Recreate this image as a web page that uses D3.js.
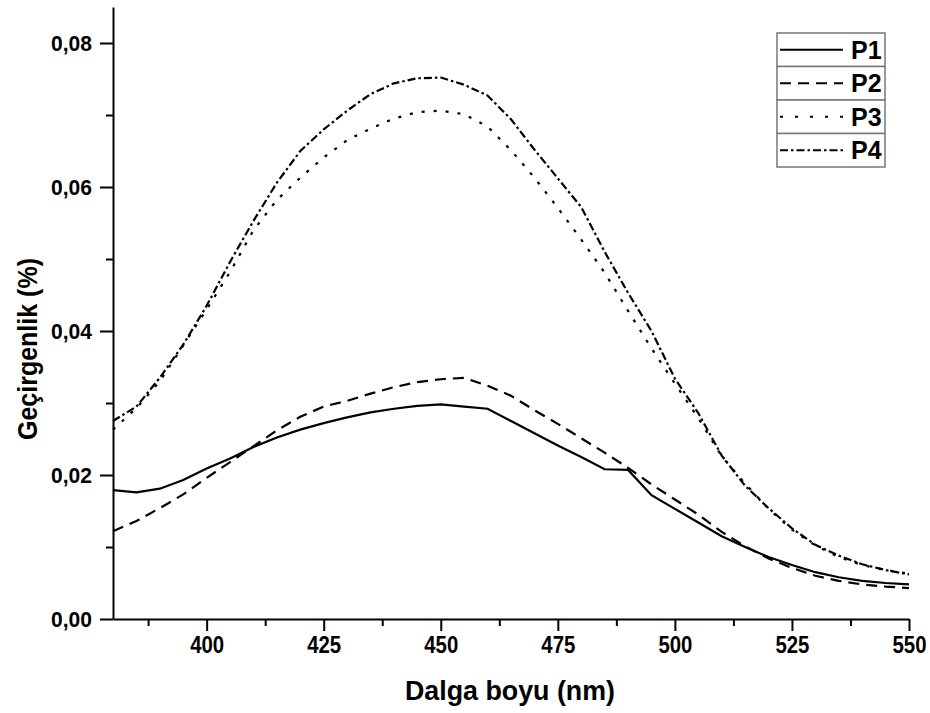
<!DOCTYPE html>
<html>
<head>
<meta charset="utf-8">
<script src="https://cdn.jsdelivr.net/npm/d3@7"></script>
<style>
  body { margin: 0; background: #fff; }
  svg { display: block; font-family: "Liberation Sans", Arial, sans-serif; }
</style>
</head>
<body>
<div id="chart"></div>
<script>
const wavelengths = [380, 385, 390, 395, 400, 405, 410, 415, 420, 425, 430, 435, 440, 445, 450, 455, 460, 465, 470, 475, 480, 485, 490, 495, 500, 505, 510, 515, 520, 525, 530, 535, 540, 545, 550];

const p1 = [0.0179, 0.0176, 0.0181, 0.0193, 0.0209, 0.0223, 0.0239, 0.0252, 0.0263, 0.0272, 0.0280, 0.0287, 0.0292, 0.0296, 0.0298, 0.0295, 0.0292, 0.0275, 0.0258, 0.0241, 0.0225, 0.0208, 0.0207, 0.0172, 0.0153, 0.0134, 0.0115, 0.0100, 0.0086, 0.0075, 0.0065, 0.0058, 0.0053, 0.0050, 0.0048];
const p2 = [0.0122, 0.0136, 0.0154, 0.0173, 0.0196, 0.0218, 0.0240, 0.0262, 0.0281, 0.0295, 0.0303, 0.0313, 0.0322, 0.0329, 0.0333, 0.0335, 0.0324, 0.0310, 0.0290, 0.0271, 0.0251, 0.0231, 0.0210, 0.0187, 0.0166, 0.0145, 0.0121, 0.0101, 0.0084, 0.0071, 0.0060, 0.0053, 0.0048, 0.0045, 0.0043];
const p3 = [0.0263, 0.0293, 0.0330, 0.0380, 0.0430, 0.0482, 0.0540, 0.0582, 0.0613, 0.0641, 0.0665, 0.0681, 0.0695, 0.0704, 0.0706, 0.0701, 0.0684, 0.0651, 0.0613, 0.0571, 0.0527, 0.0481, 0.0428, 0.0376, 0.0327, 0.0279, 0.0226, 0.0188, 0.0153, 0.0124, 0.0102, 0.0086, 0.0075, 0.0068, 0.0063];
const p4 = [0.0275, 0.0295, 0.0335, 0.0381, 0.0435, 0.0496, 0.0553, 0.0606, 0.0650, 0.0680, 0.0706, 0.0729, 0.0744, 0.0751, 0.0752, 0.0742, 0.0727, 0.0694, 0.0652, 0.0612, 0.0572, 0.0510, 0.0453, 0.0400, 0.0334, 0.0286, 0.0227, 0.0185, 0.0154, 0.0126, 0.0103, 0.0088, 0.0076, 0.0068, 0.0062];

const seriesNames = ["P1", "P2", "P3", "P4"];
const seriesValues = [p1, p2, p3, p4];
const dashes = [null, "11,7", "3,9", "8,3,2.5,3"];

const xTicks = [400, 425, 450, 475, 500, 525, 550];
const xMinorTicks = [387.5, 412.5, 437.5, 462.5, 487.5, 512.5, 537.5];
const yTicks = [0, 0.02, 0.04, 0.06, 0.08];
const yMinorTicks = [0.01, 0.03, 0.05, 0.07];

const width = 930;
const height = 713;
const margin = { top: 7, right: 21, bottom: 94, left: 113 };

const svg = d3.select("#chart")
  .append("svg")
  .attr("width", width)
  .attr("height", height);

const x = d3.scaleLinear()
  .domain([380, 550])
  .range([margin.left, width - margin.right]);

const y = d3.scaleLinear()
  .domain([0, 0.085])
  .range([height - margin.bottom, margin.top]);

const fmt = d => d3.format(".2f")(d).replace(".", ",");

// x axis
const xAxis = svg.append("g")
  .attr("transform", `translate(0,${y(0)})`)
  .call(d3.axisBottom(x).tickValues(xTicks).tickSize(12).tickSizeOuter(0).tickPadding(6).tickFormat(d3.format("d")));
svg.append("g")
  .attr("transform", `translate(0,${y(0)})`)
  .call(d3.axisBottom(x).tickValues(xMinorTicks).tickSize(7).tickSizeOuter(0).tickFormat(""))
  .call(g => g.select(".domain").remove());

// y axis
const yAxis = svg.append("g")
  .attr("transform", `translate(${x(380)},0)`)
  .call(d3.axisLeft(y).tickValues(yTicks).tickSize(13).tickSizeOuter(0).tickPadding(8).tickFormat(fmt));
svg.append("g")
  .attr("transform", `translate(${x(380)},0)`)
  .call(d3.axisLeft(y).tickValues(yMinorTicks).tickSize(7).tickSizeOuter(0).tickFormat(""))
  .call(g => g.select(".domain").remove());

svg.selectAll(".domain, .tick line")
  .attr("stroke", "#000")
  .attr("stroke-width", 2);

xAxis.selectAll("text")
  .attr("font-size", 23)
  .attr("font-weight", "bold")
  .attr("fill", "#000")
  .attr("textLength", 34)
  .attr("lengthAdjust", "spacingAndGlyphs")
  .attr("font-family", "'Liberation Sans', Arial, sans-serif");

yAxis.selectAll("text")
  .attr("font-size", 22)
  .attr("font-weight", "bold")
  .attr("fill", "#000")
  .attr("textLength", 41)
  .attr("lengthAdjust", "spacingAndGlyphs")
  .attr("font-family", "'Liberation Sans', Arial, sans-serif");

// axis titles
svg.append("text")
  .attr("x", 510)
  .attr("y", 700)
  .attr("text-anchor", "middle")
  .attr("font-size", 27)
  .attr("font-weight", "bold")
  .attr("textLength", 210)
  .attr("lengthAdjust", "spacingAndGlyphs")
  .text("Dalga boyu (nm)");

svg.append("text")
  .attr("transform", "translate(37,349) rotate(-90)")
  .attr("text-anchor", "middle")
  .attr("font-size", 27)
  .attr("font-weight", "bold")
  .attr("textLength", 182)
  .attr("lengthAdjust", "spacingAndGlyphs")
  .text("Geçirgenlik (%)");

// lines
const line = d3.line()
  .x((d, i) => x(wavelengths[i]))
  .y(d => y(d));

svg.append("g")
  .selectAll("path")
  .data(seriesValues)
  .join("path")
  .attr("d", d => line(d))
  .attr("fill", "none")
  .attr("stroke", "#000")
  .attr("stroke-width", 2.2)
  .attr("stroke-dasharray", (d, i) => dashes[i]);

// legend
const legend = svg.append("g").attr("transform", "translate(777,33)");
const rowH = 33.5;
const legW = 108;

legend.selectAll("rect")
  .data(seriesNames)
  .join("rect")
  .attr("x", 0)
  .attr("y", (d, i) => i * rowH)
  .attr("width", legW)
  .attr("height", rowH)
  .attr("fill", "#fff")
  .attr("stroke", "#777")
  .attr("stroke-width", 1.5);

legend.selectAll("line")
  .data(seriesNames)
  .join("line")
  .attr("x1", 3)
  .attr("x2", 66)
  .attr("y1", (d, i) => i * rowH + rowH / 2)
  .attr("y2", (d, i) => i * rowH + rowH / 2)
  .attr("stroke", "#000")
  .attr("stroke-width", 2.2)
  .attr("stroke-dasharray", (d, i) => i === 2 ? "3,12" : dashes[i]);

legend.selectAll("text")
  .data(seriesNames)
  .join("text")
  .attr("x", 74)
  .attr("y", (d, i) => i * rowH + rowH / 2 + 9)
  .attr("font-size", 25)
  .attr("font-weight", "bold")
  .text(d => d);
</script>
</body>
</html>
